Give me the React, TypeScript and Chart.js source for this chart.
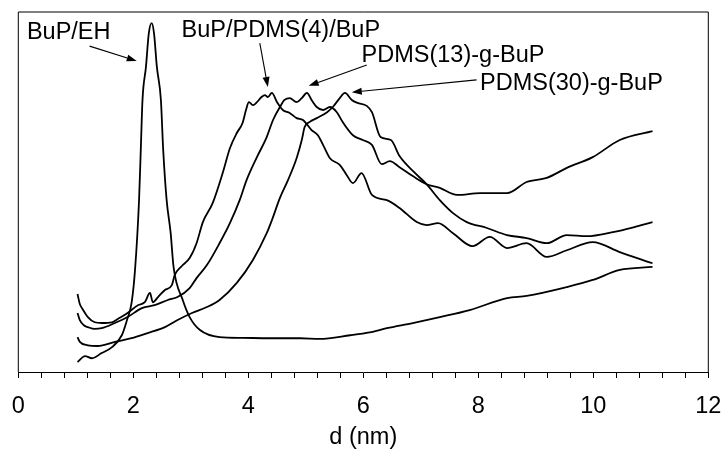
import { useEffect, useRef } from 'react';
import { Chart, registerables } from 'chart.js';

Chart.register(...registerables);

// BuP/EH
const ehD = [1.03, 1.16, 1.28, 1.45, 1.63, 1.8, 1.89, 1.97, 2.03, 2.1, 2.13, 2.16, 2.22, 2.27, 2.32, 2.36, 2.41, 2.48, 2.52, 2.58, 2.65, 2.7, 2.86, 2.98, 3.16, 3.5, 3.9, 4.37, 4.9, 5.24, 5.77, 6.11, 6.41, 6.86, 7.33, 7.85, 8.5, 8.84, 9.54, 9.99, 10.46, 11.03];
const ehI = [5.7, 7.3, 6.7, 8.1, 9.7, 12.9, 17.0, 21.6, 30.5, 49.3, 62.8, 76.3, 85.2, 94.3, 97.0, 94.3, 85.2, 76.3, 62.8, 49.3, 40.4, 31.3, 22.4, 17.8, 14.3, 12.4, 12.2, 12.1, 12.1, 11.9, 12.9, 13.7, 14.8, 16.2, 17.8, 19.7, 22.9, 23.5, 25.9, 27.8, 30.5, 31.3];

// BuP/PDMS(4)/BuP
const p4D = [1.03, 1.07, 1.12, 1.21, 1.33, 1.45, 1.63, 1.73, 1.9, 2.08, 2.2, 2.29, 2.34, 2.43, 2.55, 2.67, 2.72, 2.84, 2.98, 3.1, 3.21, 3.38, 3.56, 3.68, 3.8, 3.9, 3.96, 4.01, 4.08, 4.15, 4.23, 4.29, 4.34, 4.41, 4.5, 4.6, 4.72, 4.84, 4.95, 5.1, 5.21, 5.3, 5.42, 5.59, 5.71, 5.82, 5.97, 6.15, 6.41, 6.63, 6.93, 7.1, 7.3, 7.56, 7.9, 8.2, 8.5, 8.84, 9.19, 9.54, 9.99, 10.46, 11.03];
const p4I = [24.0, 21.3, 19.9, 17.8, 16.4, 16.2, 16.4, 17.3, 18.9, 21.0, 21.8, 24.3, 21.8, 23.2, 25.1, 26.4, 29.1, 31.5, 33.7, 37.7, 43.4, 48.5, 56.9, 63.3, 67.4, 70.1, 73.6, 75.7, 74.9, 75.7, 77.1, 77.6, 77.1, 78.2, 75.7, 73.6, 72.8, 71.4, 70.9, 68.2, 66.8, 64.2, 60.6, 58.8, 56.1, 53.9, 56.6, 50.7, 49.3, 47.2, 43.4, 42.6, 43.1, 40.4, 36.9, 39.4, 36.4, 37.7, 34.0, 35.8, 38.0, 35.3, 32.3];

// PDMS(13)-g-BuP
const p13D = [1.03, 1.07, 1.14, 1.21, 1.33, 1.45, 1.68, 1.9, 2.15, 2.37, 2.6, 2.77, 2.98, 3.1, 3.28, 3.5, 3.68, 3.85, 3.97, 4.15, 4.32, 4.43, 4.55, 4.63, 4.72, 4.84, 4.93, 5.02, 5.1, 5.19, 5.3, 5.42, 5.54, 5.64, 5.82, 5.99, 6.15, 6.32, 6.46, 6.63, 6.86, 7.1, 7.33, 7.63, 8.03, 8.5, 8.84, 9.19, 9.54, 9.99, 10.46, 11.03];
const p13I = [18.9, 17.0, 15.6, 15.1, 14.6, 14.8, 16.2, 17.8, 20.2, 21.0, 22.4, 23.2, 25.6, 28.3, 31.8, 37.7, 43.1, 49.3, 54.7, 60.9, 66.3, 70.9, 74.4, 76.3, 76.8, 75.7, 76.8, 78.2, 76.3, 74.4, 73.6, 74.4, 73.0, 70.4, 66.8, 65.5, 64.2, 59.0, 59.8, 58.2, 55.8, 53.6, 52.6, 50.7, 51.2, 51.2, 54.2, 55.3, 58.0, 60.9, 65.5, 67.9];

// PDMS(30)-g-BuP
const p30D = [1.03, 1.07, 1.21, 1.38, 1.68, 1.97, 2.25, 2.55, 2.77, 3.02, 3.28, 3.5, 3.8, 4.08, 4.32, 4.41, 4.55, 4.69, 4.84, 4.93, 4.98, 5.07, 5.19, 5.37, 5.47, 5.59, 5.68, 5.8, 5.9, 6.06, 6.15, 6.3, 6.48, 6.63, 6.88, 7.1, 7.33, 7.56, 7.8, 8.15, 8.5, 8.84, 9.19, 9.54, 9.89, 10.34, 10.7, 11.03];
const p30I = [12.4, 11.1, 10.2, 10.0, 11.1, 12.1, 13.5, 15.1, 17.0, 18.9, 20.5, 22.4, 27.0, 33.2, 40.4, 43.9, 49.9, 54.7, 60.6, 65.5, 69.0, 70.4, 71.4, 73.0, 74.4, 76.8, 78.2, 76.3, 75.5, 74.7, 73.0, 66.3, 65.5, 61.2, 56.9, 53.6, 49.3, 45.8, 43.4, 41.8, 39.9, 39.1, 37.7, 39.9, 39.6, 40.7, 42.0, 43.4];

// annotations (data units)
const noteTexts = ['BuP/EH', 'BuP/PDMS(4)/BuP', 'PDMS(13)-g-BuP', 'PDMS(30)-g-BuP'];
const noteD = [0.15, 2.84, 5.97, 8.03];
const noteI = [92.7, 93.3, 86.5, 79.0];
const arrowFromD = [1.24, 4.2, 6.06, 7.97];
const arrowFromI = [90.8, 91.6, 85.7, 81.7];
const arrowToD = [2.06, 4.34, 5.05, 5.8];
const arrowToI = [86.8, 79.8, 80.1, 78.4];

const FONT = '"Liberation Sans", Arial, sans-serif';

const toPoints = (xs: number[], ys: number[]) => xs.map((x, i) => ({ x, y: ys[i] }));

const framePlugin = {
  id: 'frame',
  afterDraw(chart: any) {
    const { ctx, chartArea } = chart;
    ctx.save();
    ctx.strokeStyle = '#000';
    ctx.lineWidth = 1;
    ctx.beginPath();
    ctx.moveTo(chartArea.left, chartArea.bottom);
    ctx.lineTo(chartArea.left, chartArea.top);
    ctx.lineTo(chartArea.right, chartArea.top);
    ctx.lineTo(chartArea.right, chartArea.bottom);
    ctx.stroke();
    ctx.restore();
  },
};

const notesPlugin = {
  id: 'notes',
  afterDatasetsDraw(chart: any) {
    const { ctx } = chart;
    const xs = chart.scales.x;
    const ys = chart.scales.y;
    ctx.save();
    ctx.fillStyle = '#000';
    ctx.strokeStyle = '#000';
    ctx.font = `23.5px ${FONT}`;
    ctx.textBaseline = 'alphabetic';
    ctx.textAlign = 'left';
    noteTexts.forEach((t, i) => {
      ctx.fillText(t, xs.getPixelForValue(noteD[i]), ys.getPixelForValue(noteI[i]));
      const x1 = xs.getPixelForValue(arrowFromD[i]);
      const y1 = ys.getPixelForValue(arrowFromI[i]);
      const x2 = xs.getPixelForValue(arrowToD[i]);
      const y2 = ys.getPixelForValue(arrowToI[i]);
      const ang = Math.atan2(y2 - y1, x2 - x1);
      const len = 10;
      const hw = 3.5;
      const bx = x2 - len * Math.cos(ang);
      const by = y2 - len * Math.sin(ang);
      ctx.lineWidth = 1.1;
      ctx.beginPath();
      ctx.moveTo(x1, y1);
      ctx.lineTo(bx, by);
      ctx.stroke();
      ctx.beginPath();
      ctx.moveTo(x2, y2);
      ctx.lineTo(bx + hw * Math.sin(ang), by - hw * Math.cos(ang));
      ctx.lineTo(bx - hw * Math.sin(ang), by + hw * Math.cos(ang));
      ctx.closePath();
      ctx.fill();
    });
    ctx.restore();
  },
};

export default function App() {
  const canvasRef = useRef<HTMLCanvasElement>(null);

  useEffect(() => {
    if (!canvasRef.current) return;
    const line = (xs: number[], ys: number[]) => ({
      data: toPoints(xs, ys),
      borderColor: '#000',
      backgroundColor: 'transparent',
      borderWidth: 1.8,
      pointRadius: 0,
      cubicInterpolationMode: 'monotone' as const,
    });

    const chart = new Chart(canvasRef.current, {
      type: 'line',
      data: {
        datasets: [line(ehD, ehI), line(p4D, p4I), line(p13D, p13I), line(p30D, p30I)],
      },
      options: {
        animation: false,
        responsive: true,
        maintainAspectRatio: false,
        layout: { padding: { left: 18.3, right: 15.7, top: 12, bottom: 0 } },
        plugins: {
          legend: { display: false },
          tooltip: { enabled: false },
        },
        scales: {
          x: {
            type: 'linear',
            min: 0,
            max: 12,
            // keep the plot box fixed: no label overhang, fixed axis height
            afterFit: (scale: any) => {
              scale.paddingLeft = 0;
              scale.paddingRight = 0;
              scale.height = 77;
            },
            border: { display: true, color: '#000', width: 1 },
            grid: { display: true, drawOnChartArea: false, drawTicks: true, tickLength: 6, color: '#000' },
            ticks: {
              stepSize: 0.4,
              maxTicksLimit: 100,
              autoSkip: false,
              maxRotation: 0,
              minRotation: 0,
              padding: 16.5,
              color: '#000',
              font: { family: FONT, size: 23.5, lineHeight: 1 },
              callback: (v: any) => {
                const n = Number(v);
                return Math.abs(n / 2 - Math.round(n / 2)) < 1e-6 ? String(Math.round(n)) : '';
              },
            },
            title: {
              display: true,
              text: 'd (nm)',
              color: '#000',
              font: { family: FONT, size: 23.5, lineHeight: 1 },
              padding: { top: 7.5, bottom: 0 },
            },
          },
          y: {
            display: false,
            min: 3,
            max: 100,
          },
        },
      },
      plugins: [framePlugin, notesPlugin],
    });

    return () => chart.destroy();
  }, []);

  return (
    <div style={{ position: 'absolute', left: 0, top: 0, width: 724, height: 449, background: '#fff' }}>
      <canvas ref={canvasRef} />
    </div>
  );
}
